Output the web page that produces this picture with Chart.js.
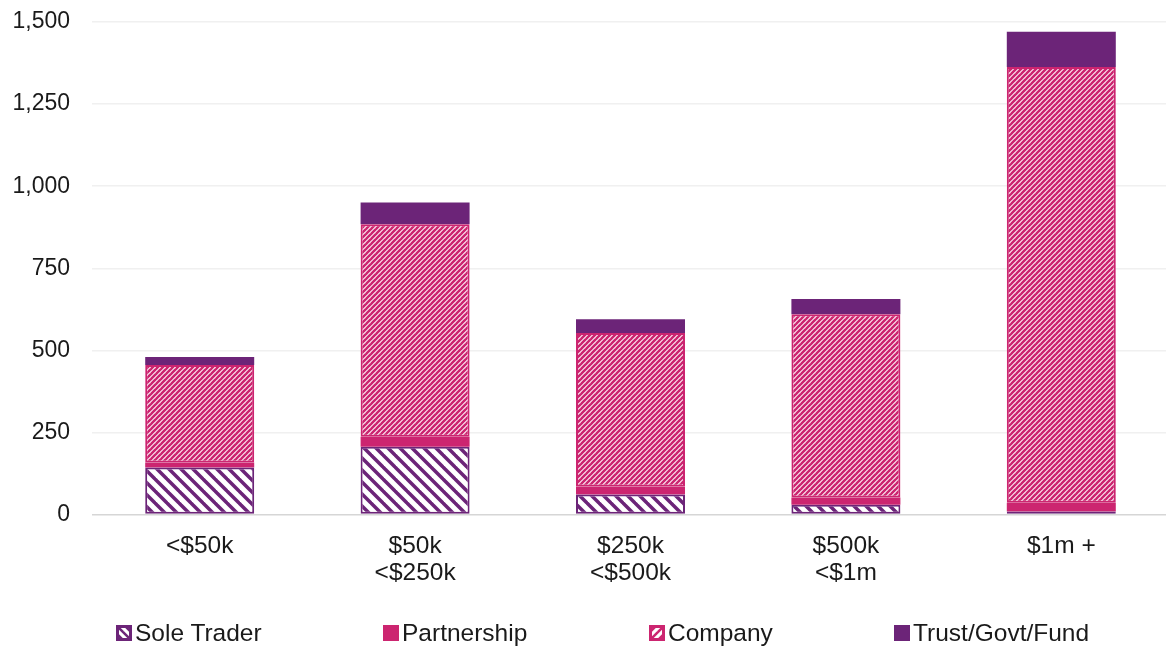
<!DOCTYPE html>
<html>
<head>
<meta charset="utf-8">
<script src="https://cdn.jsdelivr.net/npm/chart.js@4"></script>
<style>
  html, body { margin: 0; padding: 0; background: #fff; overflow: hidden; }
  #wrap { position: relative; width: 1166px; height: 648px; overflow: hidden; }
  #turnoverChart { display: block; }
  #legend { position: absolute; left: 0; top: 619px; width: 1166px; height: 28px; font-family: "Liberation Sans", Arial, sans-serif; font-size: 24.5px; color: #1a1a1a; }
  .item { position: absolute; top: 0; display: flex; align-items: center; height: 28px; white-space: nowrap; }
  .item canvas { width: 16px; height: 16px; margin-right: 3px; }
</style>
</head>
<body>
<div id="wrap">
  <canvas id="turnoverChart" width="1172" height="648"></canvas>
  <div id="legend"></div>
</div>
<script>
// Entities by turnover band
const categories = [['<$50k'], ['$50k', '<$250k'], ['$250k', '<$500k'], ['$500k', '<$1m'], ['$1m +']];
const seriesNames = ['Sole Trader', 'Partnership', 'Company', 'Trust/Govt/Fund'];
const soleTrader = [143, 206, 61, 30, 9];
const partnership = [15, 31, 24, 22, 27];
const company = [297, 647, 468, 558, 1327];
const trustGovtFund = [25, 66, 42, 46, 107];
const yTicks = [0, 250, 500, 750, 1000, 1250, 1500];

const PURPLE = '#6c2478';
const PINK = '#cc2570';

// diagonal hatch tile, dir 1 = "\" and -1 = "/"
function hatch(color, size, width, dir) {
  const c = document.createElement('canvas');
  c.width = size;
  c.height = size;
  const g = c.getContext('2d');
  g.fillStyle = '#fff';
  g.fillRect(0, 0, size, size);
  g.strokeStyle = color;
  g.lineWidth = width;
  for (let k = -size; k <= size; k += size) {
    g.beginPath();
    if (dir > 0) {
      g.moveTo(k - 1, -1);
      g.lineTo(k + size + 1, size + 1);
    } else {
      g.moveTo(k - 1, size + 1);
      g.lineTo(k + size + 1, -1);
    }
    g.stroke();
  }
  return c;
}

const ctx = document.getElementById('turnoverChart').getContext('2d');
const soleFill = ctx.createPattern(hatch(PURPLE, 12, 3.5, 1), 'repeat');
const companyFill = ctx.createPattern(hatch(PINK, 5, 2.6, -1), 'repeat');

const fills = [soleFill, PINK, companyFill, PURPLE];
const borders = [PURPLE, PINK, PINK, PURPLE];
const values = [soleTrader, partnership, company, trustGovtFund];

const datasets = seriesNames.map((name, i) => ({
  label: name,
  data: values[i],
  backgroundColor: fills[i],
  borderColor: borders[i],
  borderWidth: (i === 0 || i === 2) ? 2 : 0,
  borderSkipped: false,
  barPercentage: 0.506,
  categoryPercentage: 1
}));

const chart = new Chart(ctx, {
  type: 'bar',
  data: { labels: categories, datasets },
  options: {
    responsive: false,
    animation: false,
    layout: { padding: { top: 22, right: 3, bottom: 0, left: 0 } },
    plugins: {
      legend: { display: false },
      tooltip: { enabled: false }
    },
    scales: {
      x: {
        stacked: true,
        grid: { display: false },
        border: { display: false },
        ticks: {
          color: '#1a1a1a',
          padding: 11,
          maxRotation: 0,
          font: { family: '"Liberation Sans", Arial, sans-serif', size: 24.5, lineHeight: 1.07 }
        },
        afterFit: (scale) => { scale.height = 133.5; }
      },
      y: {
        stacked: true,
        min: 0,
        max: 1500,
        afterBuildTicks: (scale) => { scale.ticks = yTicks.map(v => ({ value: v })); },
        grid: {
          drawTicks: false,
          color: (c) => c.tick && c.tick.value === 0 ? '#d6d6d6' : '#f0f0f0',
          lineWidth: 1.5
        },
        border: { display: false },
        ticks: {
          color: '#1a1a1a',
          padding: 22,
          font: { family: '"Liberation Sans", Arial, sans-serif', size: 23 },
          callback: (v) => v.toLocaleString('en-US')
        },
        afterFit: (scale) => {
          scale.width = 92;
          scale.paddingTop = 0;
          scale.paddingBottom = 0;
        }
      }
    }
  }
});

// Legend row under the chart
const legendEl = document.getElementById('legend');
const legendLeft = [116, 383, 649, 894];
seriesNames.forEach((name, i) => {
  const item = document.createElement('div');
  item.className = 'item';
  item.style.left = legendLeft[i] + 'px';
  const sw = document.createElement('canvas');
  sw.width = 16;
  sw.height = 16;
  const s = sw.getContext('2d');
  if (i === 0 || i === 2) {
    s.fillStyle = s.createPattern(hatch(borders[i], 8, 2.5, i === 0 ? 1 : -1), 'repeat');
    s.fillRect(0, 0, 16, 16);
    s.strokeStyle = borders[i];
    s.lineWidth = 3;
    s.strokeRect(1.5, 1.5, 13, 13);
  } else {
    s.fillStyle = fills[i];
    s.fillRect(0, 0, 16, 16);
  }
  const label = document.createElement('span');
  label.textContent = name;
  item.appendChild(sw);
  item.appendChild(label);
  legendEl.appendChild(item);
});
</script>
</body>
</html>
